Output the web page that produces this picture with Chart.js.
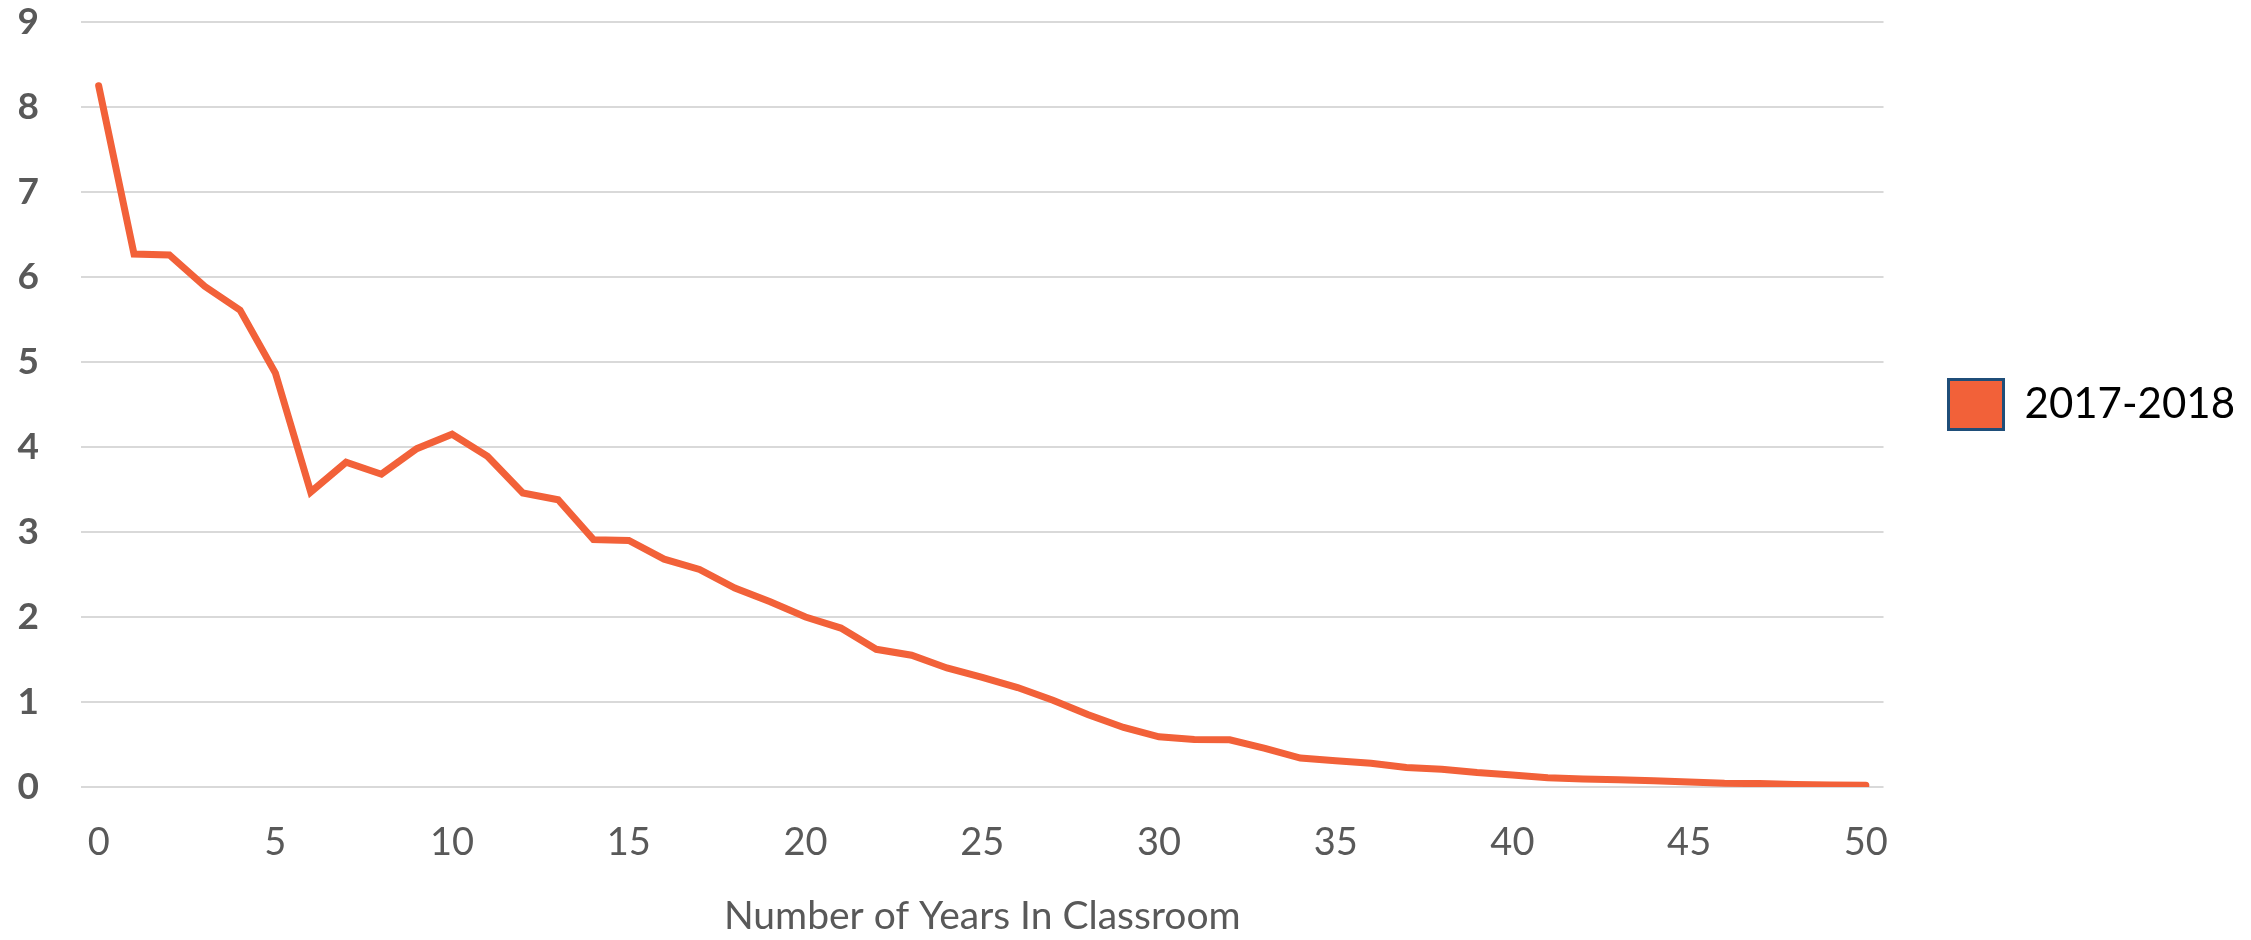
<!DOCTYPE html>
<html>
<head>
<meta charset="utf-8">
<script src="https://cdn.jsdelivr.net/npm/chart.js@4/dist/chart.umd.min.js"></script>
<style>
  html, body { margin: 0; padding: 0; background: #ffffff; overflow: hidden; }
  #chart { display: block; }
</style>
</head>
<body>
<canvas id="chart" width="2251" height="940"></canvas>
<script>
// Years of classroom experience (category axis)
const years = [0, 1, 2, 3, 4, 5, 6, 7, 8, 9, 10, 11, 12, 13, 14, 15, 16, 17, 18, 19, 20,
  21, 22, 23, 24, 25, 26, 27, 28, 29, 30, 31, 32, 33, 34, 35, 36, 37, 38, 39, 40,
  41, 42, 43, 44, 45, 46, 47, 48, 49, 50];

// Share of teachers at each experience level, 2017-2018
const share2017_18 = [8.25, 6.27, 6.26, 5.89, 5.61, 4.87, 3.47, 3.82, 3.68, 3.98, 4.15,
  3.89, 3.46, 3.38, 2.91, 2.90, 2.68, 2.56, 2.34, 2.18, 2.00,
  1.87, 1.62, 1.55, 1.40, 1.29, 1.17, 1.02, 0.85, 0.70, 0.59,
  0.56, 0.555, 0.455, 0.34, 0.31, 0.28, 0.23, 0.21, 0.17, 0.14,
  0.11, 0.095, 0.085, 0.074, 0.06, 0.043, 0.04, 0.03, 0.025, 0.02];

// Years that get a label on the horizontal axis
const xTickLabels = [0, 5, 10, 15, 20, 25, 30, 35, 40, 45, 50];
const yTickLabels = [0, 1, 2, 3, 4, 5, 6, 7, 8, 9];

const seriesName = '2017-2018';
const xTitle = 'Number of Years In Classroom';

const LINE = '#F26139';
const SWATCH_EDGE = '#1F4E79';
const GRID = '#D9D9D9';
const AXIS_TEXT = '#595959';
const FONT = 'Lato, "Open Sans", "DejaVu Sans", sans-serif';

new Chart(document.getElementById('chart'), {
  type: 'line',
  data: {
    labels: years,
    datasets: [{
      label: seriesName,
      data: share2017_18,
      borderColor: LINE,
      backgroundColor: LINE,
      borderWidth: 7,
      borderCapStyle: 'round',
      borderJoinStyle: 'miter',
      tension: 0,
      pointRadius: 0,
      pointHoverRadius: 0,
      fill: false
    }]
  },
  options: {
    responsive: false,
    animation: false,
    devicePixelRatio: 1,
    layout: { padding: { top: 0, right: 6, bottom: 0, left: 0 } },
    plugins: {
      tooltip: { enabled: false },
      legend: {
        position: 'right',
        fullSize: false,
        labels: {
          boxWidth: 55,
          boxHeight: 50,
          padding: 65,
          color: '#000000',
          font: { family: FONT, size: 42 },
          generateLabels: () => [{
            text: seriesName,
            fillStyle: LINE,
            strokeStyle: SWATCH_EDGE,
            lineWidth: 3,
            hidden: false,
            datasetIndex: 0
          }]
        }
      }
    },
    scales: {
      x: {
        type: 'category',
        offset: true,
        grid: { display: false, drawTicks: false },
        border: { display: false },
        ticks: {
          autoSkip: false,
          maxRotation: 0,
          minRotation: 0,
          padding: 33,
          color: AXIS_TEXT,
          font: { family: FONT, size: 38 },
          callback: (value, index) => xTickLabels.includes(years[index]) ? String(years[index]) : ''
        },
        title: {
          display: true,
          text: xTitle,
          color: AXIS_TEXT,
          font: { family: FONT, size: 39 },
          padding: { top: 0, bottom: 0 }
        },
        afterFit: (scale) => { scale.height = 153; scale.paddingTop = 0; scale.paddingBottom = 0; }
      },
      y: {
        min: yTickLabels[0],
        max: yTickLabels[yTickLabels.length - 1],
        grid: { color: GRID, lineWidth: 2, drawTicks: false },
        border: { display: false },
        ticks: {
          stepSize: 1,
          padding: 42,
          color: AXIS_TEXT,
          font: { family: FONT, size: 37, weight: 'bold' }
        },
        afterFit: (scale) => { scale.width = 81; scale.paddingTop = 22; scale.paddingBottom = 0; }
      }
    }
  }
});
</script>
</body>
</html>
